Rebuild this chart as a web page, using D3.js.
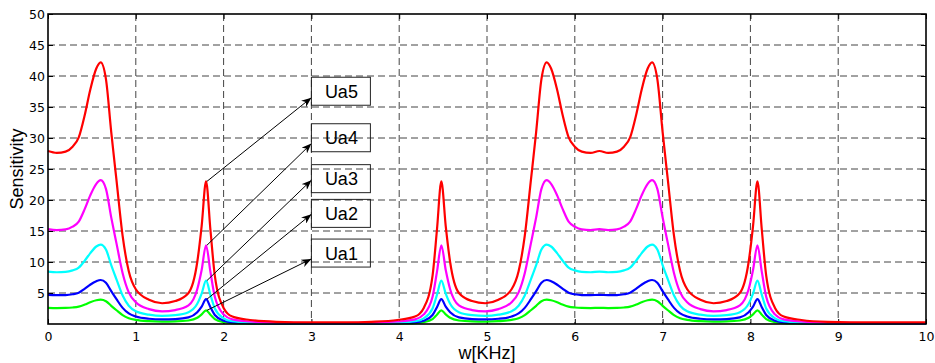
<!DOCTYPE html>
<html lang="en">
<head>
<meta charset="utf-8">
<script src="https://d3js.org/d3.v7.min.js"></script>
<title>Sensitivity</title>
<style>
    body { margin: 0; background-color: #fff; }
    .lbl { font-family: "Liberation Sans", Arial, sans-serif; fill: #000; }
    .tick text { font-family: "DejaVu Sans", Verdana, sans-serif; font-size: 12.5px; fill: #000; }
</style>
</head>
<body>
<div id="container"></div>
<script>
    // frequency points (KHz)
    var freq = [0, 0.1, 0.2, 0.28, 0.35, 0.42, 0.48, 0.55, 0.6, 0.66, 0.72, 0.78, 0.85, 0.92, 1.0, 1.15, 1.3, 1.45, 1.6, 1.7, 1.75, 1.8, 1.85, 1.9, 2.0, 2.1, 2.3, 2.6, 3.0, 3.4,
        3.68, 3.98, 4.18, 4.28, 4.38, 4.43, 4.48, 4.53, 4.58, 4.68, 4.83, 4.98, 5.13, 5.28, 5.36, 5.43, 5.5, 5.56, 5.62, 5.68, 5.73, 5.8, 5.86, 5.93, 6.0, 6.08, 6.18,
        6.28,
        6.38, 6.48, 6.56, 6.63, 6.7, 6.76, 6.83, 6.88, 6.94, 7.0, 7.06, 7.13, 7.2, 7.28, 7.43, 7.58, 7.73, 7.88, 7.98, 8.03, 8.08, 8.13, 8.18, 8.28, 8.38, 8.58, 8.88,
        9.4, 10];

    var ua1 = [2.6, 2.57, 2.59, 2.66, 2.8, 3.14, 3.5, 3.83, 3.92, 3.68, 2.93, 2.22, 1.43, 0.93, 0.66, 0.45, 0.38, 0.41, 0.56, 1.0, 1.55, 2.2, 1.5, 0.8, 0.29, 0.14, 0.07, 0.04, 0.03, 0.03,
        0.04, 0.07, 0.14, 0.29, 0.8, 1.5, 2.2, 1.55, 1.0, 0.56, 0.41, 0.38, 0.45, 0.66, 0.93, 1.43, 2.22, 2.93, 3.68, 3.92, 3.83, 3.5, 3.14, 2.8, 2.66, 2.59, 2.57,
        2.6,
        2.57, 2.59, 2.66, 2.8, 3.14, 3.5, 3.83, 3.92, 3.68, 2.93, 2.22, 1.43, 0.93, 0.66, 0.45, 0.38, 0.41, 0.56, 1.0, 1.55, 2.2, 1.5, 0.8, 0.29, 0.14, 0.07, 0.04,
        0.03, 0.03];

    var ua2 = [4.7, 4.65, 4.67, 4.8, 5.05, 5.7, 6.33, 6.9, 7.1, 6.65, 5.3, 4.0, 2.6, 1.7, 1.2, 0.85, 0.75, 0.8, 1.07, 1.9, 2.8, 4.0, 2.7, 1.45, 0.52, 0.26, 0.14, 0.07, 0.05, 0.05,
        0.07, 0.14, 0.26, 0.52, 1.45, 2.7, 4.0, 2.8, 1.9, 1.07, 0.8, 0.75, 0.85, 1.2, 1.7, 2.6, 4.0, 5.3, 6.65, 7.1, 6.9, 6.33, 5.7, 5.05, 4.8, 4.67, 4.65,
        4.7,
        4.65, 4.67, 4.8, 5.05, 5.7, 6.33, 6.9, 7.1, 6.65, 5.3, 4.0, 2.6, 1.7, 1.2, 0.85, 0.75, 0.8, 1.07, 1.9, 2.8, 4.0, 2.7, 1.45, 0.52, 0.26, 0.14, 0.07,
        0.05, 0.05];

    var ua3 = [8.45, 8.35, 8.4, 8.65, 9.1, 10.25, 11.4, 12.5, 12.8, 12.0, 9.5, 7.2, 4.6, 2.95, 2.05, 1.5, 1.3, 1.42, 1.9, 3.25, 4.9, 7.0, 4.7, 2.5, 0.92, 0.45, 0.24, 0.13, 0.1, 0.1,
        0.13, 0.24, 0.45, 0.92, 2.5, 4.7, 7.0, 4.9, 3.25, 1.9, 1.42, 1.3, 1.5, 2.05, 2.95, 4.6, 7.2, 9.5, 12.0, 12.8, 12.5, 11.4, 10.25, 9.1, 8.65, 8.4, 8.35,
        8.45,
        8.35, 8.4, 8.65, 9.1, 10.25, 11.4, 12.5, 12.8, 12.0, 9.5, 7.2, 4.6, 2.95, 2.05, 1.5, 1.3, 1.42, 1.9, 3.25, 4.9, 7.0, 4.7, 2.5, 0.92, 0.45, 0.24, 0.13,
        0.1, 0.1];

    var ua4 = [15.3, 15.15, 15.25, 15.7, 16.5, 18.6, 20.7, 22.6, 23.2, 21.8, 17.2, 13.0, 8.2, 5.1, 3.5, 2.4, 2.05, 2.25, 3.0, 5.6, 8.7, 12.7, 8.4, 4.4, 1.55, 0.75, 0.4, 0.21, 0.15, 0.15,
        0.21, 0.4, 0.75, 1.55, 4.4, 8.4, 12.7, 8.7, 5.6, 3.0, 2.25, 2.05, 2.4, 3.5, 5.1, 8.2, 13.0, 17.2, 21.8, 23.2, 22.6, 20.7, 18.6, 16.5, 15.7, 15.25, 15.15,
        15.3,
        15.15, 15.25, 15.7, 16.5, 18.6, 20.7, 22.6, 23.2, 21.8, 17.2, 13.0, 8.2, 5.1, 3.5, 2.4, 2.05, 2.25, 3.0, 5.6, 8.7, 12.7, 8.4, 4.4, 1.55, 0.75, 0.4, 0.21,
        0.15, 0.15];

    var ua5 = [27.9, 27.6, 27.8, 28.6, 30.1, 33.8, 37.7, 41.2, 42.2, 39.5, 31.0, 23.2, 14.2, 8.5, 5.6, 3.9, 3.35, 3.7, 5.0, 10.0, 15.8, 23.0, 15.2, 7.8, 2.6, 1.2, 0.65, 0.35, 0.25, 0.25,
        0.35, 0.65, 1.2, 2.6, 7.8, 15.2, 23.0, 15.8, 10.0, 5.0, 3.7, 3.35, 3.9, 5.6, 8.5, 14.2, 23.2, 31.0, 39.5, 42.2, 41.2, 37.7, 33.8, 30.1, 28.6, 27.8, 27.6,
        27.9,
        27.6, 27.8, 28.6, 30.1, 33.8, 37.7, 41.2, 42.2, 39.5, 31.0, 23.2, 14.2, 8.5, 5.6, 3.9, 3.35, 3.7, 5.0, 10.0, 15.8, 23.0, 15.2, 7.8, 2.6, 1.2, 0.65, 0.35,
        0.25, 0.25];

    var seriesNames = ["Ua1", "Ua2", "Ua3", "Ua4", "Ua5"];
    var seriesColors = ["#00ff00", "#0000ff", "#00ffff", "#ff00ff", "#ff0000"];
    var xTicks = [0, 1, 2, 3, 4, 5, 6, 7, 8, 9, 10];
    var yTicks = [5, 10, 15, 20, 25, 30, 35, 40, 45, 50];

    // annotation boxes: top of box and arrow tip (data units), arrow starts at the 1.8 KHz peak
    var boxTop = [13.7, 20.1, 25.7, 32.3, 39.8];
    var arrowTipY = [10.5, 17.7, 23.2, 29.1, 36.5];
    var arrowFromX = 1.81;
    var boxX = 3;

    var margin = {top: 14, right: 9, bottom: 39, left: 48},
        width = 935 - margin.left - margin.right,
        height = 363 - margin.top - margin.bottom;

    var svg = d3.select("#container")
        .append("svg")
        .attr("width", width + margin.left + margin.right)
        .attr("height", height + margin.top + margin.bottom)
        .style("display", "block")
        .append("g")
        .attr("transform", "translate(" + margin.left + "," + margin.top + ")");

    var x = d3.scaleLinear().domain([0, 10]).range([0, width]);
    var y = d3.scaleLinear().domain([0, 50]).range([height, 0]);

    // dashed grid
    svg.append("g").selectAll("line")
        .data(xTicks.slice(1, -1))
        .enter().append("line")
        .attr("x1", function(d) { return x(d); })
        .attr("x2", function(d) { return x(d); })
        .attr("y1", 0).attr("y2", height)
        .attr("stroke", "#444").attr("stroke-dasharray", "7,4");
    svg.append("g").selectAll("line")
        .data(yTicks.slice(0, -1))
        .enter().append("line")
        .attr("y1", function(d) { return y(d); })
        .attr("y2", function(d) { return y(d); })
        .attr("x1", 0).attr("x2", width)
        .attr("stroke", "#444").attr("stroke-dasharray", "7,4");

    // axes, ticks inside like matlab
    svg.append("g")
        .attr("transform", "translate(0," + height + ")")
        .call(d3.axisBottom(x).tickValues(xTicks).tickSize(-5).tickPadding(8).tickFormat(d3.format("d")));
    svg.append("g")
        .call(d3.axisLeft(y).tickValues(yTicks).tickSize(-5).tickPadding(3).tickFormat(d3.format("d")));
    svg.append("g")
        .call(d3.axisTop(x).tickValues(xTicks).tickSize(-5).tickFormat(""));
    svg.append("g")
        .attr("transform", "translate(" + width + ",0)")
        .call(d3.axisRight(y).tickValues(yTicks).tickSize(-5).tickFormat(""));
    svg.selectAll(".domain").remove();
    svg.selectAll(".tick line").attr("stroke", "#000");

    // curves
    var table = freq.map(function(f, i) {
        return {f: f, v: [ua1[i], ua2[i], ua3[i], ua4[i], ua5[i]]};
    });
    var line = d3.line().curve(d3.curveMonotoneX);
    seriesNames.forEach(function(name, k) {
        svg.append("path")
            .datum(table)
            .attr("d", line.x(function(d) { return x(d.f); }).y(function(d) { return y(d.v[k]); }))
            .attr("fill", "none")
            .attr("stroke", seriesColors[k])
            .attr("stroke-width", 2.2)
            .attr("stroke-linejoin", "round");
    });

    // frame
    svg.append("rect")
        .attr("width", width).attr("height", height)
        .attr("fill", "none").attr("stroke", "#000").attr("stroke-width", 1.6);

    // arrows + text boxes
    svg.append("defs").append("marker")
        .attr("id", "head")
        .attr("markerUnits", "userSpaceOnUse")
        .attr("viewBox", "0 0 10 8")
        .attr("refX", 10).attr("refY", 4)
        .attr("markerWidth", 10).attr("markerHeight", 8)
        .attr("orient", "auto")
        .append("path")
        .attr("d", "M0,0 L10,4 L0,8 L3,4 Z")
        .attr("fill", "#000");

    var peakIdx = freq.indexOf(1.8);
    var peaks = [ua1[peakIdx], ua2[peakIdx], ua3[peakIdx], ua4[peakIdx], ua5[peakIdx]];

    seriesNames.forEach(function(name, k) {
        svg.append("line")
            .attr("x1", x(arrowFromX)).attr("y1", y(peaks[k]))
            .attr("x2", x(boxX)).attr("y2", y(arrowTipY[k]))
            .attr("stroke", "#000").attr("stroke-width", 1)
            .attr("marker-end", "url(#head)");
        svg.append("rect")
            .attr("x", x(boxX)).attr("y", y(boxTop[k]))
            .attr("width", 59).attr("height", 28)
            .attr("fill", "none").attr("stroke", "#222").attr("stroke-width", 1);
        svg.append("text")
            .attr("class", "lbl")
            .attr("x", x(boxX) + 30).attr("y", y(boxTop[k]) + 20.5)
            .attr("text-anchor", "middle")
            .style("font-size", "18px")
            .text(name);
    });

    // axis titles
    svg.append("text")
        .attr("class", "lbl")
        .attr("x", width / 2).attr("y", height + 34.5)
        .attr("text-anchor", "middle")
        .style("font-size", "18px")
        .text("w[KHz]");
    svg.append("text")
        .attr("class", "lbl")
        .attr("transform", "translate(" + (-25) + "," + (height / 2) + ") rotate(-90)")
        .attr("text-anchor", "middle")
        .style("font-size", "18px")
        .text("Sensitivity");
</script>
</body>
</html>
